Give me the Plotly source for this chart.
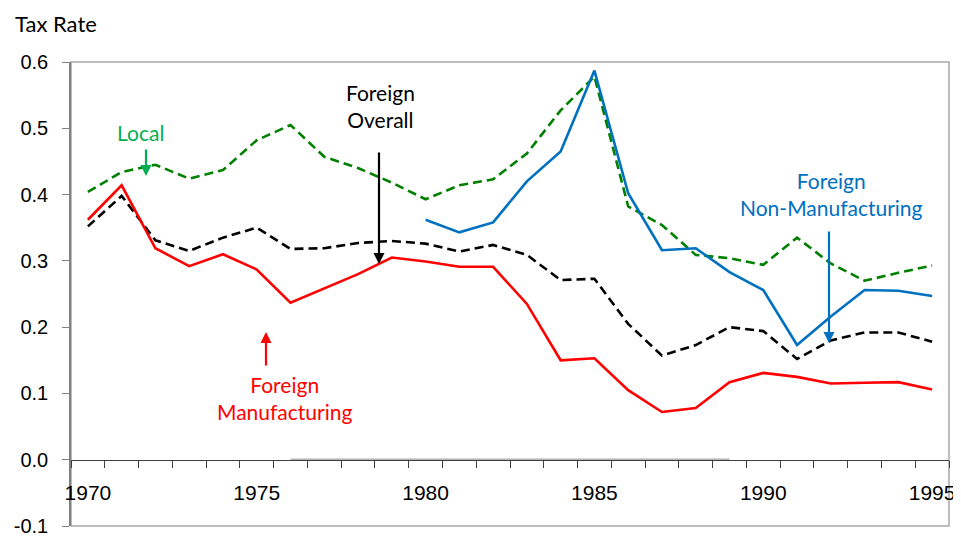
import plotly.graph_objects as go

years = list(range(1970, 1996))
local = [0.404, 0.434, 0.445, 0.424, 0.437, 0.482, 0.505, 0.457, 0.440, 0.418,
         0.393, 0.414, 0.423, 0.462, 0.527, 0.578, 0.382, 0.354, 0.309, 0.304,
         0.294, 0.335, 0.296, 0.270, 0.282, 0.293]
foreign_overall = [0.352, 0.398, 0.331, 0.315, 0.335, 0.350, 0.318, 0.319, 0.327, 0.330,
                   0.326, 0.314, 0.324, 0.309, 0.271, 0.273, 0.205, 0.157, 0.173, 0.200,
                   0.194, 0.152, 0.180, 0.192, 0.192, 0.178]
foreign_mfg = [0.362, 0.414, 0.319, 0.292, 0.310, 0.287, 0.237, 0.258, 0.280, 0.305,
               0.299, 0.291, 0.291, 0.235, 0.150, 0.153, 0.105, 0.072, 0.078, 0.117,
               0.131, 0.125, 0.115, 0.116, 0.117, 0.106]
foreign_nonmfg = [None] * 10 + [0.362, 0.343, 0.358, 0.420, 0.465, 0.587, 0.402, 0.316,
                                0.319, 0.283, 0.256, 0.173, 0.216, 0.256, 0.255, 0.247]
zero_series = [None] * 6 + [0.0] * 14 + [None] * 6

x_tick_vals = [1970, 1975, 1980, 1985, 1990, 1995]
x_tick_text = ["1970", "1975", "1980", "1985", "1990", "1995"]
y_tick_vals = [-0.1, 0.0, 0.1, 0.2, 0.3, 0.4, 0.5, 0.6]
y_tick_text = ["-0.1", "0.0", "0.1", "0.2", "0.3", "0.4", "0.5", "0.6"]

LBL = "Lato, 'Open Sans', sans-serif"
AX = "'Liberation Sans', Arial, sans-serif"

# the page body has an 8px default margin; compensate
OFF = 8

fig = go.Figure()
fig.add_trace(go.Scatter(x=years, y=zero_series, mode="lines",
                         line=dict(color="#B4B4B4", width=2.5), hoverinfo="skip"))
fig.add_trace(go.Scatter(x=years, y=local, mode="lines", name="Local",
                         line=dict(color="#008000", width=2.6, dash="9px,5px")))
fig.add_trace(go.Scatter(x=years, y=foreign_overall, mode="lines", name="Foreign Overall",
                         line=dict(color="#000000", width=2.6, dash="9px,5px")))
fig.add_trace(go.Scatter(x=years, y=foreign_mfg, mode="lines", name="Foreign Manufacturing",
                         line=dict(color="#FF0000", width=2.6)))
fig.add_trace(go.Scatter(x=years, y=foreign_nonmfg, mode="lines", name="Foreign Non-Manufacturing",
                         line=dict(color="#0070C0", width=2.6)))

fig.update_layout(
    width=961 - OFF, height=539 - OFF,
    margin=dict(l=71 - OFF, r=12, t=62 - OFF, b=13),
    paper_bgcolor="white", plot_bgcolor="white",
    showlegend=False,
    xaxis=dict(
        range=[1969.5, 1995.5], anchor="free", position=1/7, automargin=False,
        showline=True, linecolor="#404040", linewidth=1,
        tickmode="array", tickvals=x_tick_vals, ticktext=x_tick_text,
        ticks="", showgrid=False, zeroline=False,
        tickfont=dict(family=AX, size=21, color="black"),
        ticklabelstandoff=14,
        minor=dict(ticks="outside", ticklen=7, tickcolor="#404040",
                   tick0=1969.5, dtick=1, showgrid=False),
    ),
    yaxis=dict(
        range=[-0.1, 0.6], showline=True, linecolor="#808080", linewidth=1.5,
        tickmode="array", tickvals=y_tick_vals, ticktext=y_tick_text,
        ticks="outside", ticklen=7, tickcolor="#808080",
        showgrid=False, zeroline=False, automargin=False,
        tickfont=dict(family=AX, size=20, color="black"),
        ticklabelstandoff=10,
    ),
)

fig.add_shape(type="rect", xref="paper", yref="paper", x0=0, x1=1, y0=0, y1=1,
              line=dict(color="#A6A6A6", width=1.5), layer="below")

def px_x(p):
    return (p - 71) / 878.0

def px_y(p):
    return (526 - p) / 464.0

# title
fig.add_annotation(text="Tax Rate", xref="paper", yref="paper", x=px_x(14), y=px_y(OFF + 1),
                   xanchor="left", yanchor="top", showarrow=False, borderpad=0,
                   font=dict(family=LBL, size=22, color="black"))

# labels
labels = [
    ("Local", 140, 132, "#00B050"),
    ("Foreign<br>Overall", 380, 106, "#000000"),
    ("Foreign<br>Manufacturing", 284, 398, "#FF0000"),
    ("Foreign<br>Non-Manufacturing", 831, 194, "#0070C0"),
]
for t, x, y, c in labels:
    fig.add_annotation(text=t, xref="paper", yref="paper", x=px_x(x), y=px_y(y),
                       xanchor="center", yanchor="middle", showarrow=False,
                       font=dict(family=LBL, size=21, color=c))

# arrows (tip x, tip y, offset of tail in px)
arrows = [
    (146, 176, -28, "#00B050"),
    (379, 264, -113, "#000000"),
    (266, 332, 35, "#FF0000"),
    (829, 343, -113, "#0070C0"),
]
for x, y, ay, c in arrows:
    fig.add_annotation(text="", xref="paper", yref="paper", x=px_x(x), y=px_y(y),
                       ax=0, ay=ay, showarrow=True, arrowhead=2, arrowsize=1,
                       arrowwidth=2.2, arrowcolor=c)

fig.write_html("out.html", config={"displayModeBar": False})
